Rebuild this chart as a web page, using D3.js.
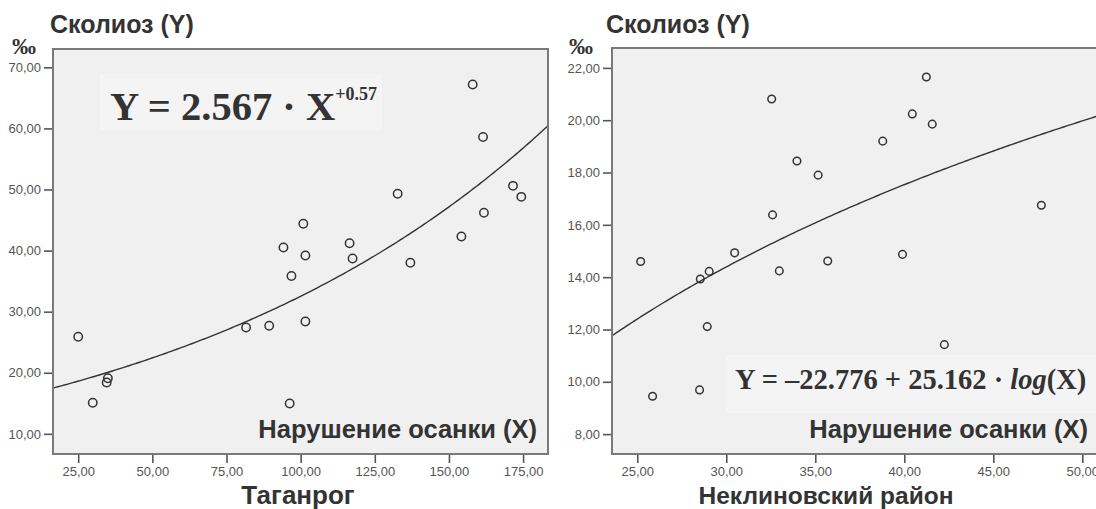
<!DOCTYPE html>
<html>
<head>
<meta charset="utf-8">
<script src="https://cdn.jsdelivr.net/npm/d3@7"></script>
<style>
  html, body { margin: 0; padding: 0; background: #fff; }
  svg { display: block; }
  .tick text { font-family: Arial, "Liberation Sans", sans-serif; font-size: 13px; fill: #555; }
  .tick line { stroke: #555; stroke-width: 1.6; }
</style>
</head>
<body>
<svg id="chart" width="1096" height="509"></svg>
<script>
// Таганрог: нарушение осанки (X) и сколиоз (Y), ‰
const tagX = [25, 29.9, 34.6, 35.0, 81.6, 89.4, 94.2, 96.3, 96.9, 100.9, 101.6, 101.6, 116.5, 117.5, 132.7, 137, 154.2, 158, 161.5, 161.8, 171.6, 174.4];
const tagY = [25.9, 15.1, 18.4, 19.1, 27.4, 27.7, 40.5, 14.97, 35.85, 44.4, 39.2, 28.4, 41.2, 38.7, 49.3, 38.0, 42.3, 67.2, 58.6, 46.2, 50.6, 48.8];
const tagXTicks = [25, 50, 75, 100, 125, 150, 175];
const tagYTicks = [10, 20, 30, 40, 50, 60, 70];
// trend curve Y = a·exp(b·X)
const tagFit = [15.47, 0.00743];

// Неклиновский район
const nekX = [25.19, 25.86, 28.5, 28.54, 28.93, 29.04, 30.47, 32.55, 32.6, 32.98, 33.97, 35.16, 35.7, 38.79, 39.9, 40.45, 41.24, 41.57, 42.25, 47.7];
const nekY = [14.6, 9.45, 9.69, 13.93, 12.11, 14.22, 14.93, 20.81, 16.38, 14.24, 18.44, 17.9, 14.62, 19.2, 14.87, 20.24, 21.65, 19.85, 11.42, 16.75];
const nekXTicks = [25, 30, 35, 40, 45, 50];
const nekYTicks = [8, 10, 12, 14, 16, 18, 20, 22];
// trend curve Y = a + b·log10(X)
const nekFit = [-22.776, 25.162];

const svg = d3.select("#chart");
const fmt = v => d3.format(".2f")(v).replace(".", ",");
const sans = "Arial, 'Liberation Sans', sans-serif";
const serif = "'Times New Roman', 'Liberation Serif', serif";
const ink = "#333";

function panel(cfg) {
  const x = d3.scaleLinear().domain(cfg.xDomain).range([cfg.left, cfg.right]);
  const y = d3.scaleLinear().domain(cfg.yDomain).range([cfg.bottom, cfg.top]);
  const g = svg.append("g");

  g.append("rect")
    .attr("x", cfg.left).attr("y", cfg.top)
    .attr("width", cfg.right - cfg.left).attr("height", cfg.bottom - cfg.top)
    .attr("fill", "#f0f0f1");

  // equation backdrop
  g.append("rect")
    .attr("x", cfg.eqBox[0]).attr("y", cfg.eqBox[1])
    .attr("width", cfg.eqBox[2]).attr("height", cfg.eqBox[3])
    .attr("fill", "#f4f4f5");

  const clipId = "clip" + cfg.id;
  g.append("clipPath").attr("id", clipId).append("rect")
    .attr("x", cfg.left).attr("y", cfg.top)
    .attr("width", cfg.right - cfg.left).attr("height", cfg.bottom - cfg.top);

  // trend curve
  const [x0, x1] = cfg.xDomain;
  const xs = d3.range(0, 201).map(i => x0 + (x1 - x0) * i / 200);
  g.append("path")
    .attr("clip-path", `url(#${clipId})`)
    .attr("d", d3.line().x(d => x(d)).y(d => y(cfg.fit(d)))(xs))
    .attr("fill", "none").attr("stroke", ink).attr("stroke-width", 1.4);

  // observations
  g.append("g").selectAll("circle")
    .data(cfg.xs.map((v, i) => [v, cfg.ys[i]]))
    .join("circle")
    .attr("cx", d => x(d[0])).attr("cy", d => y(d[1]))
    .attr("r", cfg.r)
    .attr("fill", "none").attr("stroke", ink).attr("stroke-width", 1.5);

  // axes
  const ax = g.append("g").attr("transform", `translate(0,${cfg.bottom})`)
    .call(d3.axisBottom(x).tickValues(cfg.xTicks).tickFormat(fmt).tickSize(9).tickPadding(4));
  ax.select(".domain").remove();
  const ay = g.append("g").attr("transform", `translate(${cfg.left},0)`)
    .call(d3.axisLeft(y).tickValues(cfg.yTicks).tickFormat(fmt).tickSize(9).tickPadding(3));
  ay.select(".domain").remove();

  // frame
  g.append("rect")
    .attr("x", cfg.left).attr("y", cfg.top)
    .attr("width", cfg.right - cfg.left).attr("height", cfg.bottom - cfg.top)
    .attr("fill", "none").attr("stroke", "#7a7a7a").attr("stroke-width", 2);

  // titles
  g.append("text").attr("x", cfg.titleX).attr("y", 33)
    .attr("font-family", sans).attr("font-weight", "bold").attr("font-size", 25)
    .attr("fill", ink).text("Сколиоз (Y)");
  g.append("text").attr("x", cfg.permilleX).attr("y", 54)
    .attr("font-family", serif).attr("font-weight", "bold").attr("font-size", 24)
    .attr("fill", ink).text("‰");
  g.append("text").attr("x", cfg.right - cfg.xLabelInset).attr("y", 438)
    .attr("text-anchor", "end")
    .attr("font-family", sans).attr("font-weight", "bold").attr("font-size", 25.5)
    .attr("fill", ink).text("Нарушение осанки (X)");
  g.append("text").attr("x", cfg.placeX).attr("y", 504)
    .attr("text-anchor", "middle")
    .attr("font-family", sans).attr("font-weight", "bold").attr("font-size", cfg.placeSize)
    .attr("fill", ink).text(cfg.place);

  return g;
}

const gL = panel({
  id: "L", left: 53, right: 548, top: 49, bottom: 454,
  xDomain: [16.5, 183.4], yDomain: [6.7, 73],
  xs: tagX, ys: tagY, xTicks: tagXTicks, yTicks: tagYTicks,
  fit: v => tagFit[0] * Math.exp(tagFit[1] * v),
  r: 4.2, titleX: 50, permilleX: 12, xLabelInset: 11,
  place: "Таганрог", placeX: 298, placeSize: 26,
  eqBox: [100, 74, 282, 56]
});

const eqL = gL.append("text").attr("x", 110).attr("y", 120)
  .attr("font-family", serif).attr("font-weight", "bold").attr("font-size", 40.5)
  .attr("fill", ink);
eqL.append("tspan").text("Y = 2.567 · X");
eqL.append("tspan").attr("dy", -20).attr("font-size", 18).text("+0.57");

const gR = panel({
  id: "R", left: 612, right: 1101, top: 48, bottom: 454,
  xDomain: [23.58, 51.05], yDomain: [7.24, 22.76],
  xs: nekX, ys: nekY, xTicks: nekXTicks, yTicks: nekYTicks,
  fit: v => nekFit[0] + nekFit[1] * Math.log10(v),
  r: 3.8, titleX: 606, permilleX: 569, xLabelInset: 13,
  place: "Неклиновский район", placeX: 826, placeSize: 24.5,
  eqBox: [726, 355, 375, 58]
});

const eqR = gR.append("text").attr("x", 735).attr("y", 389)
  .attr("font-family", serif).attr("font-weight", "bold").attr("font-size", 28.5)
  .attr("fill", ink);
eqR.append("tspan").text("Y = –22.776 + 25.162 · ");
eqR.append("tspan").attr("font-style", "italic").text("log");
eqR.append("tspan").text("(X)");
</script>
</body>
</html>
